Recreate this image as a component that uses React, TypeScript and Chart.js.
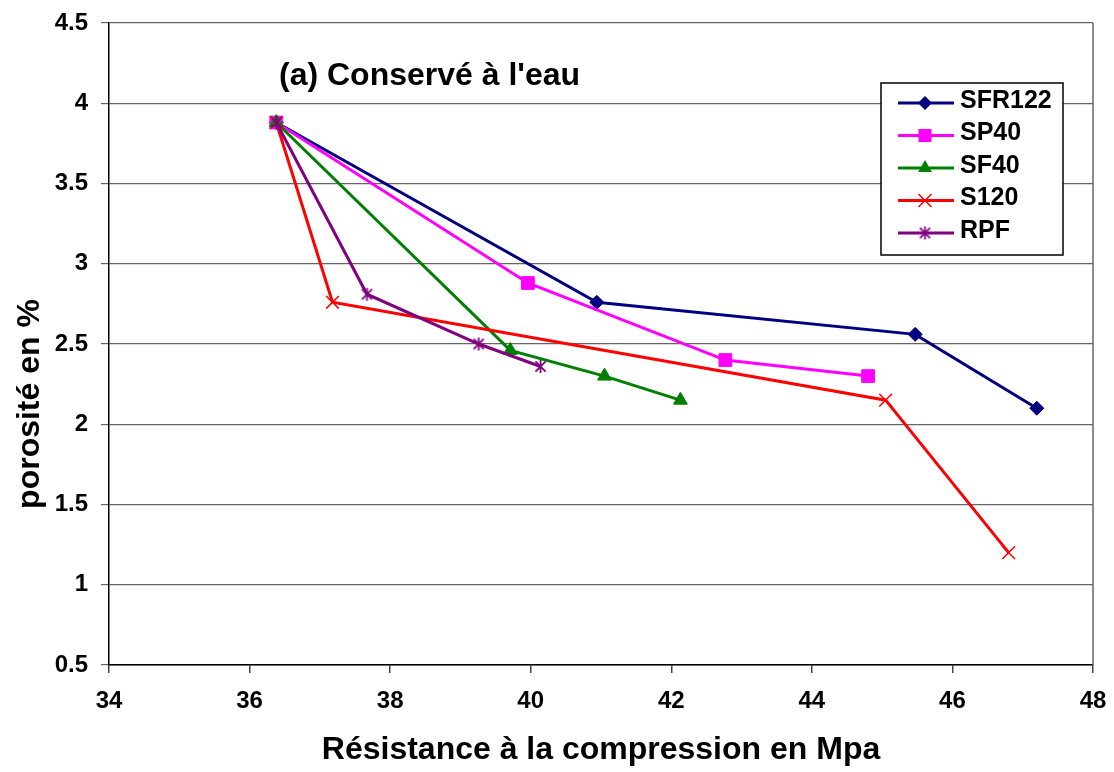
import React, { useEffect, useRef } from 'react';
import { Chart, registerables } from 'chart.js';

Chart.register(...registerables);

const seriesNames = ['SFR122', 'SP40', 'SF40', 'S120', 'RPF'];
const seriesColors = ['#000080', '#FF00FF', '#008000', '#FF0000', '#800080'];

const sfr122X = [36.38, 40.94, 45.47, 47.2];
const sfr122Y = [3.88, 2.76, 2.56, 2.1];
const sp40X = [36.38, 39.96, 42.77, 44.8];
const sp40Y = [3.88, 2.88, 2.4, 2.3];
const sf40X = [36.38, 39.71, 41.05, 42.13];
const sf40Y = [3.88, 2.46, 2.3, 2.15];
const s120X = [36.38, 37.18, 45.05, 46.8];
const s120Y = [3.88, 2.76, 2.15, 1.2];
const rpfX = [36.38, 37.67, 39.26, 40.14];
const rpfY = [3.88, 2.81, 2.5, 2.36];

const xTickValues = [34, 36, 38, 40, 42, 44, 46, 48];
const yTickValues = [0.5, 1, 1.5, 2, 2.5, 3, 3.5, 4, 4.5];

const chartTitle = "(a) Conservé à l'eau";
const xTitle = 'Résistance à la compression en Mpa';
const yTitle = 'porosité en %';

const FONT = '"Liberation Sans", Arial, sans-serif';

function makeAsterisk(color: string, size: number): HTMLCanvasElement {
  const c = document.createElement('canvas');
  c.width = size;
  c.height = size;
  const g = c.getContext('2d')!;
  g.strokeStyle = color;
  g.lineWidth = 1.8;
  const h = size / 2;
  const r = size / 2 - 1;
  const d = r * 0.78;
  g.beginPath();
  g.moveTo(h, h - r);
  g.lineTo(h, h + r);
  g.moveTo(h - d, h - d);
  g.lineTo(h + d, h + d);
  g.moveTo(h + d, h - d);
  g.lineTo(h - d, h + d);
  g.stroke();
  return c;
}

function drawMarker(ctx: CanvasRenderingContext2D, kind: number, x: number, y: number, color: string, star: HTMLCanvasElement) {
  ctx.save();
  ctx.fillStyle = color;
  ctx.strokeStyle = color;
  ctx.lineWidth = 1.5;
  ctx.beginPath();
  if (kind === 0) {
    const r = 7;
    ctx.moveTo(x, y - r);
    ctx.lineTo(x + r, y);
    ctx.lineTo(x, y + r);
    ctx.lineTo(x - r, y);
    ctx.closePath();
    ctx.fill();
  } else if (kind === 1) {
    ctx.rect(x - 6.5, y - 6.5, 13, 13);
    ctx.fill();
  } else if (kind === 2) {
    const r = 8;
    ctx.moveTo(x, y - r);
    ctx.lineTo(x + r * 0.866, y + r / 2);
    ctx.lineTo(x - r * 0.866, y + r / 2);
    ctx.closePath();
    ctx.fill();
  } else if (kind === 3) {
    const d = 6.5;
    ctx.moveTo(x - d, y - d);
    ctx.lineTo(x + d, y + d);
    ctx.moveTo(x + d, y - d);
    ctx.lineTo(x - d, y + d);
    ctx.stroke();
  } else {
    ctx.drawImage(star, x - star.width / 2, y - star.height / 2);
  }
  ctx.restore();
}

export default function App() {
  const canvasRef = useRef<HTMLCanvasElement | null>(null);

  useEffect(() => {
    const canvas = canvasRef.current;
    if (!canvas) return;
    const star = makeAsterisk('#800080', 15);
    const xs = [sfr122X, sp40X, sf40X, s120X, rpfX];
    const ys = [sfr122Y, sp40Y, sf40Y, s120Y, rpfY];
    const pointStyles: any[] = ['rectRot', 'rect', 'triangle', 'crossRot', star];
    const radii = [7, 9, 8, 9, 7.5];

    const datasets = seriesNames.map((name, i) => ({
      label: name,
      data: xs[i].map((x, j) => ({ x, y: ys[i][j] })),
      borderColor: seriesColors[i],
      backgroundColor: seriesColors[i],
      borderWidth: 3,
      tension: 0,
      fill: false,
      pointStyle: pointStyles[i],
      pointRadius: radii[i],
      pointHoverRadius: radii[i],
      pointBorderWidth: i === 3 ? 1.5 : 1,
      pointBorderColor: seriesColors[i],
      pointBackgroundColor: seriesColors[i],
      order: seriesNames.length - i,
    }));

    const decorations = {
      id: 'decorations',
      beforeDatasetsDraw(chart: any) {
        const { ctx, chartArea } = chart;
        ctx.save();
        ctx.strokeStyle = '#666666';
        ctx.lineWidth = 1.5;
        ctx.beginPath();
        ctx.moveTo(chartArea.right, chartArea.top);
        ctx.lineTo(chartArea.right, chartArea.bottom);
        ctx.stroke();
        ctx.restore();
      },
      afterDraw(chart: any) {
        const { ctx } = chart;
        ctx.save();
        ctx.fillStyle = '#000';
        ctx.font = `bold 32px ${FONT}`;
        ctx.textAlign = 'left';
        ctx.textBaseline = 'alphabetic';
        ctx.fillText(chartTitle, 279, 85);

        ctx.save();
        ctx.translate(30, 404);
        ctx.rotate(-Math.PI / 2);
        ctx.textAlign = 'center';
        ctx.textBaseline = 'middle';
        ctx.font = `bold 32px ${FONT}`;
        ctx.fillText(yTitle, 0, 0);
        ctx.restore();

        const lx = 881, ly = 83, lw = 182, lh = 172;
        ctx.fillStyle = '#fff';
        ctx.fillRect(lx, ly, lw, lh);
        ctx.strokeStyle = '#000';
        ctx.lineWidth = 1.5;
        ctx.strokeRect(lx, ly, lw, lh);
        ctx.font = `bold 25px ${FONT}`;
        ctx.textAlign = 'left';
        ctx.textBaseline = 'middle';
        seriesNames.forEach((name, i) => {
          const rowY = 103 + i * 32.5;
          ctx.strokeStyle = seriesColors[i];
          ctx.lineWidth = 3;
          ctx.beginPath();
          ctx.moveTo(898, rowY);
          ctx.lineTo(954, rowY);
          ctx.stroke();
          drawMarker(ctx, i, 925, rowY, seriesColors[i], star);
          ctx.fillStyle = '#000';
          ctx.fillText(name, 960, rowY - 2);
        });
        ctx.restore();
      },
    };

    const chart = new Chart(canvas, {
      type: 'line',
      data: { datasets },
      options: {
        animation: false,
        responsive: false,
        maintainAspectRatio: false,
        layout: { padding: { top: 23, right: 21, left: 0, bottom: 0 } },
        plugins: {
          legend: { display: false },
          tooltip: { enabled: false },
          title: { display: false },
        },
        scales: {
          x: {
            type: 'linear',
            min: 34,
            max: 48,
            afterFit: (s: any) => {
              s.height = 107;
              s.paddingLeft = 0;
              s.paddingRight = 0;
              s.paddingTop = 0;
              s.paddingBottom = 0;
            },
            afterBuildTicks: (s: any) => { s.ticks = xTickValues.map((v) => ({ value: v })); },
            border: { display: true, color: '#000', width: 1.5 },
            grid: { display: true, drawOnChartArea: false, drawTicks: true, tickLength: 8, color: '#444', lineWidth: 1.5 },
            ticks: {
              padding: 14,
              color: '#000',
              font: { family: FONT, size: 24, weight: 'bold' },
              callback: (v: any) => String(v),
            },
            title: {
              display: true,
              text: xTitle,
              color: '#000',
              font: { family: FONT, size: 32, weight: 'bold' },
              padding: { top: 0, bottom: 3 },
            },
          },
          y: {
            type: 'linear',
            min: 0.5,
            max: 4.5,
            afterFit: (s: any) => {
              s.width = 109;
              s.paddingLeft = 0;
              s.paddingRight = 0;
              s.paddingTop = 0;
              s.paddingBottom = 0;
            },
            afterBuildTicks: (s: any) => { s.ticks = yTickValues.map((v) => ({ value: v })); },
            border: { display: true, color: '#000', width: 1.5 },
            grid: { display: true, drawTicks: true, tickLength: 8, color: '#666666', lineWidth: 1.2 },
            ticks: {
              padding: 13,
              color: '#000',
              font: { family: FONT, size: 24, weight: 'bold' },
              callback: (v: any) => String(v),
            },
            title: { display: false },
          },
        },
      },
      plugins: [decorations],
    } as any);

    return () => chart.destroy();
  }, []);

  return (
    <div style={{ position: 'absolute', left: 0, top: 0, width: 1114, height: 772, background: '#fff' }}>
      <canvas ref={canvasRef} width={1114} height={772} style={{ display: 'block', width: 1114, height: 772 }} />
    </div>
  );
}
